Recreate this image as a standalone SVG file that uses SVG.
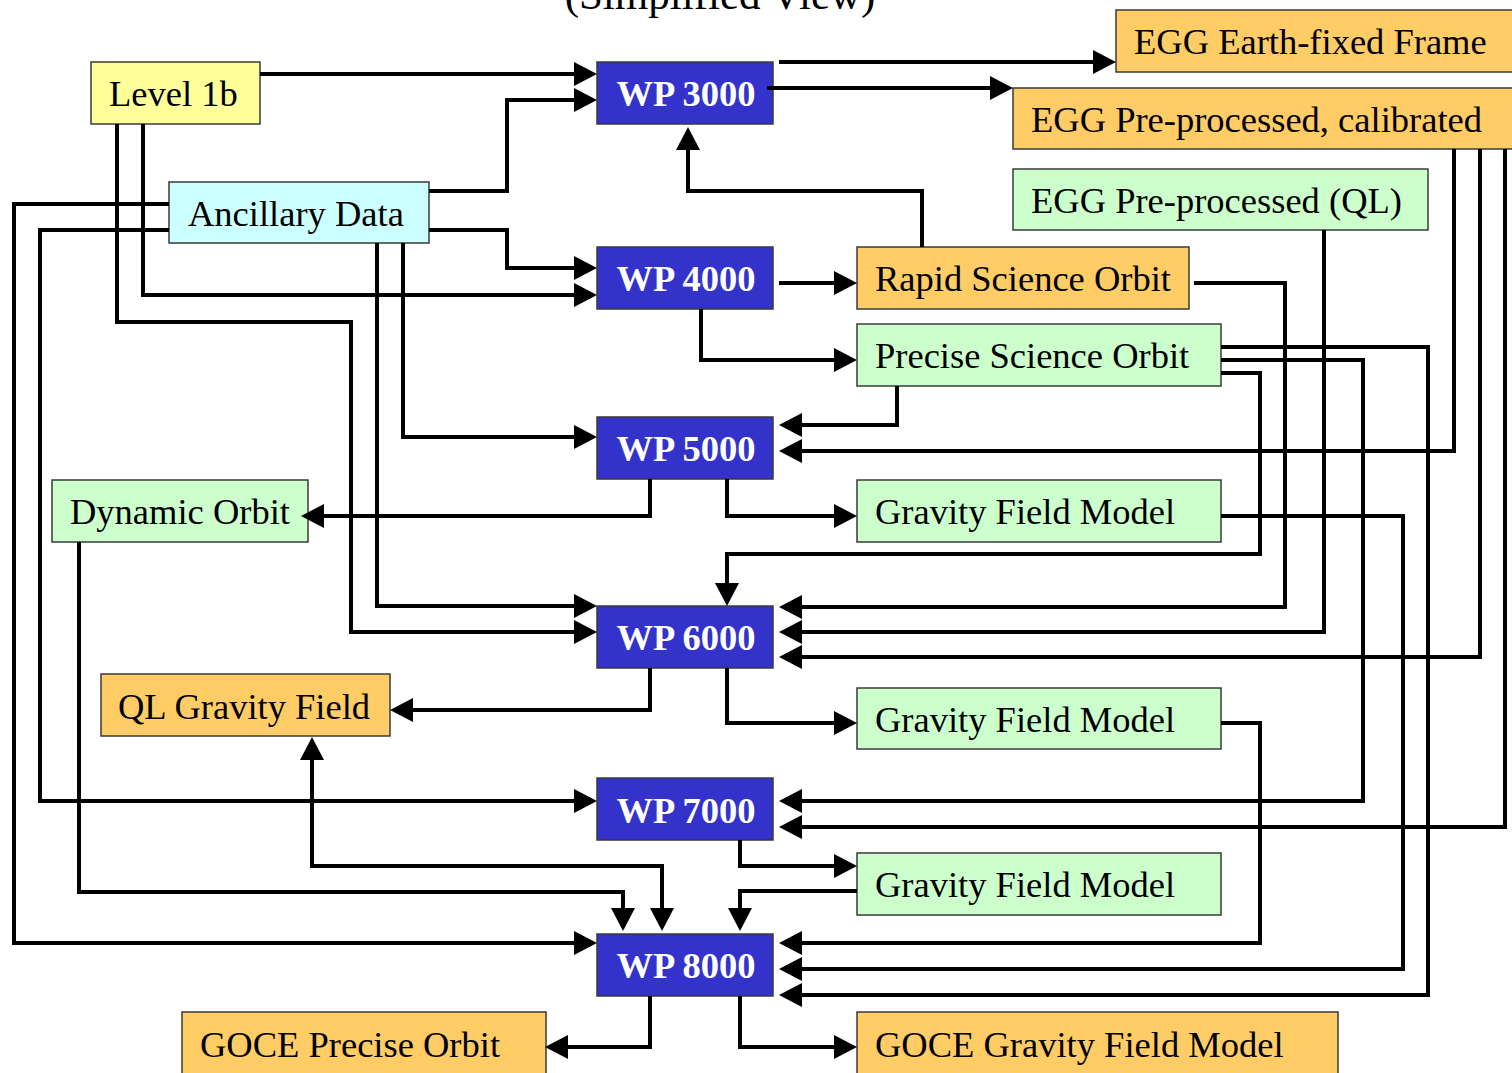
<svg xmlns="http://www.w3.org/2000/svg" width="1512" height="1073" viewBox="0 0 1512 1073">
<style>
.n rect{stroke:#3a3a3a;stroke-width:1.5}
.n text{font-family:"Liberation Serif","Times New Roman",serif;font-size:36.5px;fill:#000}
.wp rect{fill:#3333CC}
.wp text{fill:#fff;font-weight:bold;text-anchor:middle}
.yl rect{fill:#FFFF99}
.cy rect{fill:#CCFFFF}
.gr rect{fill:#CCFFCC}
.or rect{fill:#FFCC66}
#connectors path{fill:none;stroke:#000;stroke-width:4;marker-end:url(#ah)}
.title{font-family:"Liberation Serif","Times New Roman",serif;font-size:43px;text-anchor:middle}
</style>
<defs>
<marker id="ah" markerUnits="userSpaceOnUse" markerWidth="24" markerHeight="24" refX="13" refY="12" orient="auto-start-reverse" viewBox="0 0 24 24">
<path d="M0,0 L23,12 L0,24 z" fill="#000"/>
</marker>
</defs>
<rect width="1512" height="1073" fill="#fff"/>
<text class="title" x="720" y="9">(Simplified View)</text>

<g id="level1b" class="n yl"><rect x="91" y="62" width="169" height="62"/><text x="109" y="106">Level 1b</text></g>
<g id="wp3000" class="n wp"><rect x="597" y="62" width="176" height="62"/><text x="686" y="106">WP 3000</text></g>
<g id="egg-ef" class="n or"><rect x="1116" y="10" width="400" height="62"/><text x="1134" y="54">EGG Earth-fixed Frame</text></g>
<g id="egg-cal" class="n or"><rect x="1013" y="88" width="503" height="61"/><text x="1031" y="132">EGG Pre-processed, calibrated</text></g>
<g id="ancillary" class="n cy"><rect x="169" y="182" width="260" height="61"/><text x="188" y="226">Ancillary Data</text></g>
<g id="egg-ql" class="n gr"><rect x="1013" y="169" width="415" height="61"/><text x="1031" y="213">EGG Pre-processed (QL)</text></g>
<g id="wp4000" class="n wp"><rect x="597" y="247" width="176" height="62"/><text x="686" y="291">WP 4000</text></g>
<g id="rso" class="n or"><rect x="857" y="247" width="332" height="62"/><text x="875" y="291">Rapid Science Orbit</text></g>
<g id="pso" class="n gr"><rect x="857" y="324" width="364" height="62"/><text x="875" y="368">Precise Science Orbit</text></g>
<g id="wp5000" class="n wp"><rect x="597" y="417" width="176" height="62"/><text x="686" y="461">WP 5000</text></g>
<g id="dynorbit" class="n gr"><rect x="52" y="480" width="256" height="62"/><text x="70" y="524">Dynamic Orbit</text></g>
<g id="gfm1" class="n gr"><rect x="857" y="480" width="364" height="62"/><text x="875" y="524">Gravity Field Model</text></g>
<g id="wp6000" class="n wp"><rect x="597" y="606" width="176" height="62"/><text x="686" y="650">WP 6000</text></g>
<g id="qlgf" class="n or"><rect x="101" y="674" width="289" height="62"/><text x="118" y="719">QL Gravity Field</text></g>
<g id="gfm2" class="n gr"><rect x="857" y="688" width="364" height="61"/><text x="875" y="732">Gravity Field Model</text></g>
<g id="wp7000" class="n wp"><rect x="597" y="778" width="176" height="62"/><text x="686" y="823">WP 7000</text></g>
<g id="gfm3" class="n gr"><rect x="857" y="853" width="364" height="62"/><text x="875" y="897">Gravity Field Model</text></g>
<g id="wp8000" class="n wp"><rect x="597" y="934" width="176" height="62"/><text x="686" y="978">WP 8000</text></g>
<g id="goce-po" class="n or"><rect x="182" y="1012" width="364" height="70"/><text x="200" y="1057">GOCE Precise Orbit</text></g>
<g id="goce-gfm" class="n or"><rect x="857" y="1012" width="481" height="70"/><text x="875" y="1057">GOCE Gravity Field Model</text></g>

<g id="connectors">
<path d="M260,74 H587"/>
<path d="M429,191 H507 V100 H587"/>
<path d="M779,62 H1106"/>
<path d="M767,88 H1003"/>
<path d="M922,247 V191 H688 V137"/>
<path d="M429,230 H507 V268 H587"/>
<path d="M143,124 V295 H587"/>
<path d="M779,283 H847"/>
<path d="M701,309 V360 H847"/>
<path d="M117,124 V322 H351 V632 H587"/>
<path d="M169,204 H14 V943 H587"/>
<path d="M169,230 H40 V801 H587"/>
<path d="M377,243 V606 H587"/>
<path d="M403,243 V437 H587"/>
<path d="M897,386 V425 H789"/>
<path d="M1454,149 V451 H789"/>
<path d="M650,479 V516 H311"/>
<path d="M727,479 V516 H847"/>
<path d="M1221,373 H1260 V554 H727 V596"/>
<path d="M1194,283 H1285 V607 H789"/>
<path d="M1324,230 V632 H789"/>
<path d="M1480,149 V657 H789"/>
<path d="M650,668 V710 H400"/>
<path d="M727,668 V723 H847"/>
<path d="M1221,360 H1363 V801 H789"/>
<path d="M1505,149 V827 H789"/>
<path d="M740,840 V866 H847"/>
<path d="M857,891 H740 V921"/>
<path d="M79,542 V892 H623 V921"/>
<path d="M312,747 V866 H662 V921" style="marker-start:url(#ah)"/>
<path d="M1221,723 H1260 V943 H789"/>
<path d="M1221,516 H1403 V969 H789"/>
<path d="M1221,347 H1428 V995 H789"/>
<path d="M650,996 V1047 H555"/>
<path d="M740,996 V1047 H847"/>
</g>
</svg>
